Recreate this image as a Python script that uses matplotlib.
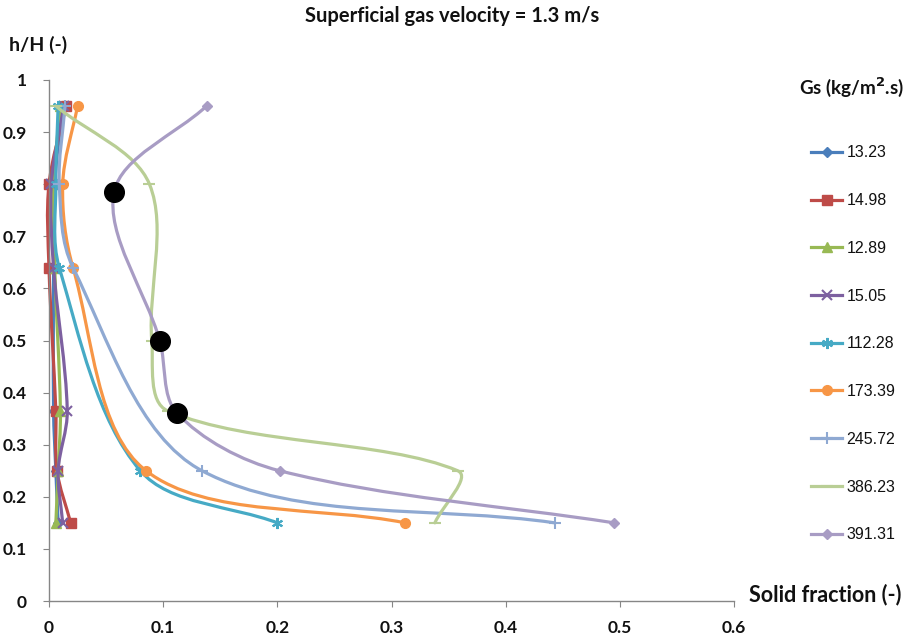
import numpy as np
import matplotlib
matplotlib.use("Agg")
import matplotlib.pyplot as plt
from matplotlib.path import Path
from matplotlib.patches import PathPatch
from matplotlib.lines import Line2D

# ---- data ----
h_full = [0.95, 0.80, 0.64, 0.365, 0.25, 0.15]
h_five = [0.95, 0.80, 0.64, 0.25, 0.15]
h_386 = [0.95, 0.80, 0.50, 0.365, 0.25, 0.15]
h_391 = [0.95, 0.785, 0.50, 0.361, 0.25, 0.15]

labels = ["13.23", "14.98", "12.89", "15.05", "112.28", "173.39", "245.72", "386.23", "391.31"]

x_1323 = [0.012, 0.005, 0.004, 0.004, 0.006, 0.008]
x_1498 = [0.015, 0.000, 0.000, 0.006, 0.007, 0.019]
x_1289 = [0.010, 0.004, 0.005, 0.010, 0.008, 0.006]
x_1505 = [0.013, 0.002, 0.004, 0.016, 0.008, 0.012]
x_11228 = [0.008, 0.006, 0.009, 0.080, 0.200]
x_17339 = [0.025, 0.012, 0.021, 0.085, 0.312]
x_24572 = [0.014, 0.009, 0.021, 0.134, 0.443]
x_38623 = [0.006, 0.088, 0.090, 0.104, 0.358, 0.338]
x_39131 = [0.138, 0.057, 0.097, 0.112, 0.202, 0.495]

xs_all = [x_1323, x_1498, x_1289, x_1505, x_11228, x_17339, x_24572, x_38623, x_39131]
hs_all = [h_full, h_full, h_full, h_full, h_five, h_five, h_five, h_386, h_391]

# highlighted points (black circles)
black_x = [0.057, 0.097, 0.112]
black_y = [0.785, 0.499, 0.361]

xticks = [0, 0.1, 0.2, 0.3, 0.4, 0.5, 0.6]
yticks = [0, 0.1, 0.2, 0.3, 0.4, 0.5, 0.6, 0.7, 0.8, 0.9, 1]

# ---- styles ----
colors = ["#4A7EBB", "#BE4B48", "#98B954", "#7D60A0", "#46AAC5",
          "#F79646", "#8FA9D2", "#B9CE95", "#A89CC4"]
markers = ["D", "s", "^", "x", (6, 2, 0), "o", "+", "_", "D"]
msizes = [5, 7, 7, 7, 8, 7, 9, 9, 5]

FONT = "Lato"
TXT = "#111111"

fig = plt.figure(figsize=(9.08, 6.36), dpi=100)
ax = fig.add_axes([49 / 908, 1 - 601 / 636, (734 - 49) / 908, (601 - 80) / 636])
ax.set_xlim(0, 0.6)
ax.set_ylim(0, 1)

# pixel scale of the axes (for chord-length based smoothing)
SX = (734 - 49) / 0.6
SY = (601 - 80) / 1.0


def smooth_path(xs, ys):
    pts = np.column_stack([xs, ys]).astype(float)
    sc = np.array([SX, SY])
    n = len(pts)
    verts = [pts[0]]
    codes = [Path.MOVETO]

    def d(a, b):
        return np.hypot(*((a - b) * sc))

    for i in range(n - 1):
        p0 = pts[i - 1] if i > 0 else pts[i]
        p1 = pts[i]
        p2 = pts[i + 1]
        p3 = pts[i + 2] if i + 2 < n else pts[i + 1]
        d01, d12, d23 = d(p0, p1), d(p1, p2), d(p2, p3)
        f1 = d12 / (d01 + d12) / 3.0 if d01 + d12 > 0 else 0
        f2 = d12 / (d12 + d23) / 3.0 if d12 + d23 > 0 else 0
        c1 = p1 + (p2 - p0) * f1
        c2 = p2 - (p3 - p1) * f2
        verts += [c1, c2, p2]
        codes += [Path.CURVE4] * 3
    return Path(verts, codes)


handles = []
for i, (xs, hs) in enumerate(zip(xs_all, hs_all)):
    c = colors[i]
    patch = PathPatch(smooth_path(xs, hs), fill=False, edgecolor=c, lw=2.3,
                      capstyle="round", joinstyle="round", zorder=2 + i * 0.1,
                      clip_on=False)
    ax.add_patch(patch)
    mk = markers[i]
    filled = mk not in ("x", "+", "_") and not isinstance(mk, tuple)
    ax.plot(xs, hs, linestyle="none", marker=mk, ms=msizes[i], color=c,
            mew=1.5 if not filled else 1.0, mfc=c, mec=c,
            zorder=2.05 + i * 0.1, clip_on=False)
    handles.append(Line2D([], [], color=c, lw=2.3, marker=mk, ms=msizes[i],
                          mfc=c, mec=c, mew=1.5 if not filled else 1.0))

ax.scatter(black_x, black_y, s=200, color="black", zorder=10, clip_on=False)

# axes styling
for s in ["top", "right"]:
    ax.spines[s].set_visible(False)
for s in ["left", "bottom"]:
    ax.spines[s].set_color("#868686")
    ax.spines[s].set_linewidth(1.0)
ax.set_xticks(xticks)
ax.set_yticks(yticks)
ax.set_xticklabels([f"{t:g}" for t in xticks])
ax.set_yticklabels([f"{t:g}" for t in yticks])
ax.tick_params(axis="both", direction="out", length=4, color="#868686",
               labelsize=12.5)
ax.tick_params(axis="x", pad=10)
ax.tick_params(axis="y", pad=12)
for lab in ax.get_xticklabels() + ax.get_yticklabels():
    lab.set_fontfamily(FONT)
    lab.set_fontweight("bold")
    lab.set_color(TXT)

# texts
fig.text(452 / 908, 1 - 16 / 636, "Superficial gas velocity = 1.3 m/s",
         ha="center", va="center", fontsize=14.5, fontweight="bold",
         family=FONT, color=TXT)
fig.text(9 / 908, 1 - 45 / 636, "h/H (-)", ha="left", va="center",
         fontsize=14, fontweight="bold", family=FONT, color=TXT)
fig.text(901 / 908, 1 - 595 / 636, "Solid fraction (-)", ha="right",
         va="center", fontsize=15.5, fontweight="bold", family=FONT,
         color=TXT)
fig.text(904 / 908, 1 - 87 / 636, "Gs (kg/m$^\\mathbf{2}$.s)", ha="right",
         va="center", fontsize=13.5, fontweight="bold", family=FONT,
         color=TXT)

leg = fig.legend(handles, labels, loc="upper left",
                 bbox_to_anchor=(797 / 908, 1 - 131 / 636),
                 frameon=False, labelspacing=2.05,
                 handlelength=1.9, handletextpad=0.3,
                 prop={"family": "Liberation Sans", "size": 11.5})
for t in leg.get_texts():
    t.set_color(TXT)

fig.savefig("out.png", dpi=100)
